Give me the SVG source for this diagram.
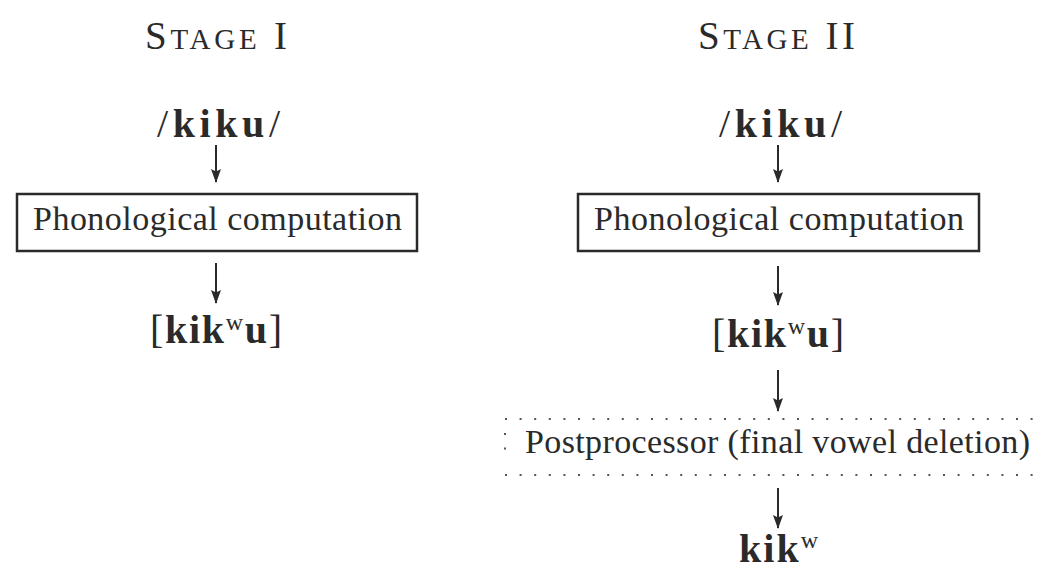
<svg xmlns="http://www.w3.org/2000/svg" width="1040" height="572" viewBox="0 0 1040 572">
  <defs>
    <marker id="head" viewBox="0 0 14 10" refX="13" refY="5" markerWidth="14" markerHeight="10" markerUnits="userSpaceOnUse" orient="auto">
      <path d="M0,0 L2.5,5 L0,10 L14,5 Z" fill="#2a2a2a"/>
    </marker>
    <style>
      text { font-family: "Liberation Serif", "Times New Roman", serif; fill: #2a2a2a; }
      .title { font-size: 39px; }
      .sc { font-size: 29px; }
      .form { font-size: 40px; }
      .b { font-weight: bold; }
      .sup { font-size: 24px; }
      .label { font-size: 34px; }
      .box { fill: none; stroke: #2a2a2a; stroke-width: 2.5; }
      .dots { fill: none; stroke: #555; stroke-width: 2; stroke-dasharray: 2 12.6; }
      .arrow { stroke: #2a2a2a; stroke-width: 2; fill: none; marker-end: url(#head); }
    </style>
  </defs>
  <rect width="1040" height="572" fill="#ffffff"/>

  <!-- column headings -->
  <g id="stage1-title">
    <text class="title" x="145" y="49" textLength="142" lengthAdjust="spacing">S<tspan class="sc">TAGE</tspan> I</text>
  </g>
  <g id="stage2-title">
    <text class="title" x="698" y="49" textLength="157" lengthAdjust="spacing">S<tspan class="sc">TAGE</tspan> II</text>
  </g>

  <!-- Stage I -->
  <g id="s1-input">
    <text class="form" x="157" y="137" textLength="123" lengthAdjust="spacing">/<tspan class="b">kiku</tspan>/</text>
  </g>
  <g id="s1-computation">
    <rect class="box" x="17" y="194" width="400" height="57"/>
    <text class="label" x="33" y="230" textLength="369" lengthAdjust="spacing">Phonological computation</text>
  </g>
  <g id="s1-output">
    <text class="form" x="150" y="343" textLength="132" lengthAdjust="spacing">[<tspan class="b">kik</tspan><tspan class="sup" dy="-13">w</tspan><tspan class="b" dy="13">u</tspan>]</text>
  </g>

  <!-- Stage II -->
  <g id="s2-input">
    <text class="form" x="719" y="137" textLength="123" lengthAdjust="spacing">/<tspan class="b">kiku</tspan>/</text>
  </g>
  <g id="s2-computation">
    <rect class="box" x="578" y="194" width="401" height="57"/>
    <text class="label" x="594" y="230" textLength="370" lengthAdjust="spacing">Phonological computation</text>
  </g>
  <g id="s2-surface">
    <text class="form" x="712" y="347" textLength="132" lengthAdjust="spacing">[<tspan class="b">kik</tspan><tspan class="sup" dy="-13">w</tspan><tspan class="b" dy="13">u</tspan>]</text>
  </g>
  <g id="s2-postprocessor">
    <line class="dots" x1="505" y1="419" x2="1040" y2="419"/>
    <line class="dots" x1="505" y1="475" x2="1040" y2="475"/>
    <line class="dots" x1="505" y1="433" x2="505" y2="462" style="stroke-dasharray: 2 12.5"/>
    <text class="label" x="525" y="453" textLength="505" lengthAdjust="spacing">Postprocessor (final vowel deletion)</text>
  </g>
  <g id="s2-output">
    <text class="form" x="739" y="562" textLength="79" lengthAdjust="spacing"><tspan class="b">kik</tspan><tspan class="sup" dy="-14">w</tspan></text>
  </g>

  <!-- connectors -->
  <g id="connectors">
    <line class="arrow" x1="216" y1="145" x2="216" y2="182"/>
    <line class="arrow" x1="216" y1="263" x2="216" y2="303"/>
    <line class="arrow" x1="778" y1="145" x2="778" y2="182"/>
    <line class="arrow" x1="778" y1="266" x2="778" y2="305"/>
    <line class="arrow" x1="778" y1="370" x2="778" y2="411"/>
    <line class="arrow" x1="778" y1="488" x2="778" y2="528"/>
  </g>
</svg>
